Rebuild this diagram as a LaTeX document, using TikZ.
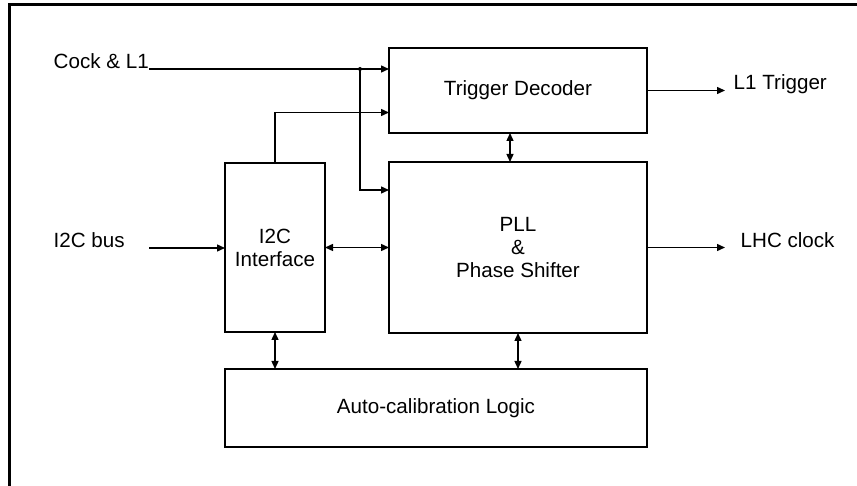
\documentclass[tikz,border=0pt]{standalone}
\usepackage{fontspec}
\setmainfont{Liberation Sans}
\usetikzlibrary{arrows.meta,positioning}

\begin{document}
\begin{tikzpicture}[x=1pt,y=-1pt,>={Triangle[length=8pt,width=7pt]},
  line width=1.4pt,
  block/.style={draw,line width=1.6pt,outer sep=0pt,align=center,
  font=\fontsize{20.6}{23}\selectfont},
  io label/.style={inner sep=0pt,anchor=base west,
  font=\fontsize{20.6}{23}\selectfont}]

  \useasboundingbox (0,0) rectangle (857,486);
  \draw[line width=3pt] (9.5,486) -- (9.5,5) -- (857,5);

  \node[block,minimum width=258pt,minimum height=85pt] (tdec) at (518,90.5) {Trigger Decoder};
  \node[block,minimum width=258pt,minimum height=171pt] (pll) [below=29pt of tdec] {PLL\\\&\\Phase Shifter};
  \node[block,minimum width=100pt,minimum height=169pt] (i2c) [left=64pt of pll] {I2C\\Interface};
  \node[block,minimum width=422pt,minimum height=78pt] (calib) [below=36pt of pll.south east,anchor=north east] {Auto-calibration Logic};

  \node[io label] (cock) at (53,69) {Cock \& L1};
  \node[io label] (bus) at (53,248) {I2C bus};
  \node[io label] (trig) at (733,90) {L1 Trigger};
  \node[io label] (lhc) at (740,248) {LHC clock};

  \coordinate (jn) at (360,69);
  \coordinate (busin) at (cock.base east |- bus.base);

  \draw[->] (cock.base east) -- (cock.base east -| tdec.west);
  \fill (jn) circle (2pt);
  \draw[->] (jn) |- ([yshift=-28pt]pll.north west);
  \draw[->] (i2c.north) |- ([yshift=-22pt]tdec.west);
  \draw[->] (busin) -- (busin -| i2c.west);
  \draw[<->] (i2c.east) -- (pll.west);
  \draw[->,shorten >=8pt] (tdec.east) -- (tdec.east -| trig.west);
  \draw[->,shorten >=15pt] (pll.east) -- (pll.east -| lhc.west);
  \draw[<->] ([xshift=-8pt]tdec.south) -- ([xshift=-8pt]tdec.south |- pll.north);
  \draw[<->] (i2c.south) -- (i2c.south |- calib.north);
  \draw[<->] (pll.south) -- (pll.south |- calib.north);
\end{tikzpicture}
\end{document}
